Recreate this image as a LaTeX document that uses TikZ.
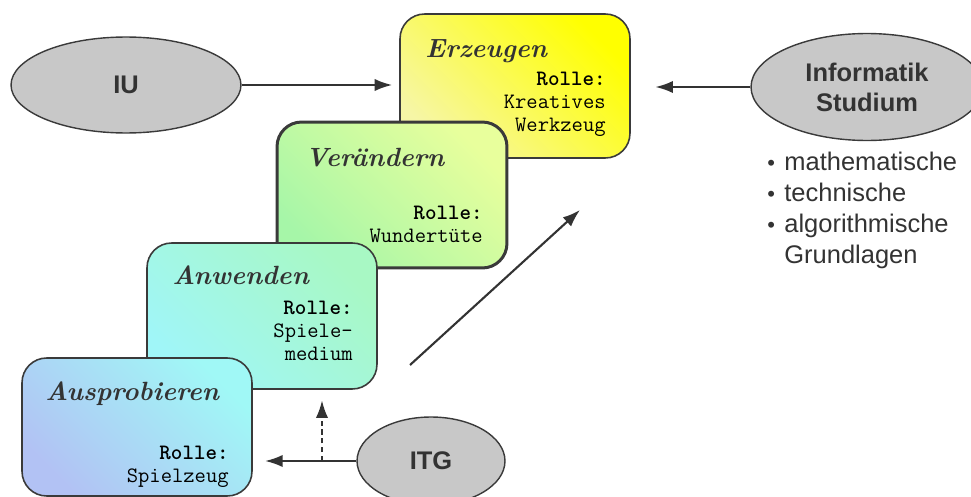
\documentclass[tikz,border=0pt]{standalone}
\usepackage{fontspec}
\newfontfamily\arialfont{Liberation Sans}
\usetikzlibrary{shapes.geometric,arrows.meta}
\definecolor{ink}{HTML}{333333}
\definecolor{edge}{HTML}{3A3A3A}
\definecolor{ovalgray}{HTML}{C8C8C8}
\definecolor{erzhigh}{HTML}{FFFF00}
\definecolor{erzlow}{HTML}{F6F6A6}
\definecolor{verhigh}{HTML}{E8FF9C}
\definecolor{verlow}{HTML}{A6F6A8}
\definecolor{anwhigh}{HTML}{A8F8C4}
\definecolor{anwlow}{HTML}{A0F6F8}
\definecolor{aushigh}{HTML}{A0F8F6}
\definecolor{auslow}{HTML}{B2C2F4}
\newcommand{\rolle}{\textbf{Rolle:}}
\newcommand{\bul}{\makebox[9.7pt][l]{\fontsize{12.5}{12.5}\selectfont\raisebox{0.3pt}{•}}}
\tikzset{
  stage/.style={draw=edge, line width=0.9pt, rounded corners=14pt, minimum width=4.6cm},
  oval/.style={ellipse, draw=edge, line width=0.8pt, fill=ovalgray, text=ink,
    align=center, font=\arialfont\bfseries\fontsize{14.5}{17}\selectfont},
  title/.style={anchor=base west, text=ink, font=\fontsize{15}{19}\selectfont\bfseries\itshape},
  role/.style={anchor=north east, align=right, font=\ttfamily\fontsize{12.5}{13.1}\selectfont},
  arr/.style={draw=ink, line width=1.2pt, -{Latex[length=10pt,width=7pt]}}
}
\begin{document}
\begin{tikzpicture}
    [x=0.02cm, y=-0.02cm, every node/.style={inner sep=0pt}]
    \useasboundingbox (0,0) rectangle (971,497);
    % stages, back to front
    \node [stage, minimum height=2.88cm, bottom color=erzlow, top color=erzhigh, shading angle=-45] (erz) at (515,86) {};
    \node [stage, line width=1.7pt, minimum height=2.92cm, bottom color=verlow, top color=verhigh, shading angle=-45] (ver) at (392,195) {};
    \node [stage, minimum height=2.92cm, bottom color=anwlow, top color=anwhigh, shading angle=-45] (anw) at (262,316) {};
    \node [stage, minimum height=2.76cm, bottom color=auslow, top color=aushigh, shading angle=-45] (aus) at (137,427) {};
    \node [title] (erzt) at (425,57) {Erzeugen};
    \node [title] (vert) at (305,166) {Verändern};
    \node [title] (anwt) at (172,284) {Anwenden};
    \node [title] (aust) at (45,400) {Ausprobieren};
    \node [role] (erzr) at (606,72) {\rolle\\Kreatives\\Werkzeug};
    \node [role] (verr) at (483,206) {\rolle\\Wundertüte};
    \node [role] (anwr) at (353,301) {\rolle\\Spiele-\\medium};
    \node [role] (ausr) at (229,446) {\rolle\\Spielzeug};
    % sources
    \node [oval, minimum width=4.6cm, minimum height=1.92cm] (iu) at (126,85) {IU};
    \node [oval, minimum width=4.64cm, minimum height=2.14cm] (inf) at (867,87) {Informatik\\Studium};
    \node [oval, minimum width=2.96cm, minimum height=1.76cm] (itg) at (431,461) {ITG};
    \node [anchor=north west, align=left, text=ink, font=\arialfont\fontsize{14.5}{17.6}\selectfont] (basics) at (767,152)
        {\bul mathematische\\\bul technische\\\bul algorithmische\\\hphantom{\bul}Grundlagen};
    % connectors
    \draw [arr, shorten >=4pt] (iu) -- (iu -| erz.west);
    \draw [arr, shorten >=14pt] (inf) -- (inf -| erz.east);
    \draw [arr, shorten >=7pt] (itg) -- (itg -| aus.east);
    \coordinate (dashfoot) at (322,461);
    \draw [arr, dash pattern=on 3pt off 2pt, shorten >=6pt] (dashfoot) -- (dashfoot |- anw.south);
    \coordinate (rise0) at (410,365);
    \coordinate (rise1) at (580,210);
    \draw [arr] (rise0) -- (rise1);
\end{tikzpicture}
\end{document}
